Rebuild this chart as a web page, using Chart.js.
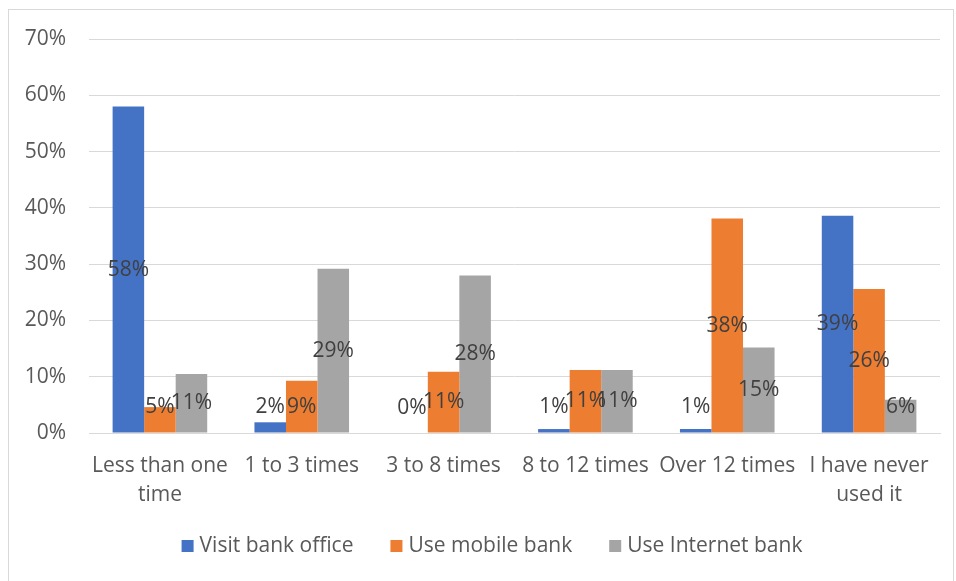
<!DOCTYPE html>
<html>
<head>
<meta charset="utf-8">
<script src="https://cdn.jsdelivr.net/npm/chart.js@4/dist/chart.umd.min.js"></script>
<style>
    html, body { margin: 0; padding: 0; background: #fff; overflow: hidden; }
    #wrap { position: relative; width: 956px; height: 581px; }
    #frame {
        position: absolute; left: 8px; top: 9px; width: 946px; height: 620px;
        border: 1px solid #d9d9d9; box-sizing: border-box;
    }
    canvas { position: absolute; left: 0; top: 0; }
</style>
</head>
<body>
<div id="wrap">
    <div id="frame"></div>
    <canvas id="chart" width="956" height="581"></canvas>
</div>
<script>
var categories = [
    ['Less than one', 'time'],
    '1 to 3 times',
    '3 to 8 times',
    '8 to 12 times',
    'Over 12 times',
    ['I have never', 'used it']
];
var seriesNames = ['Visit bank office', 'Use mobile bank', 'Use Internet bank'];
var visitOffice = [58.0, 1.9, 0.0, 0.7, 0.7, 38.6];
var mobileBank = [4.6, 9.3, 10.9, 11.2, 38.1, 25.6];
var internetBank = [10.5, 29.2, 28.0, 11.2, 15.2, 5.9];
var yTicks = [0, 10, 20, 30, 40, 50, 60, 70];

var seriesColors = ['#4472c4', '#ed7d31', '#a5a5a5'];
var fontFamily = '"Open Sans", "Noto Sans", sans-serif';
var fontSize = 21;

// value labels in the middle of each bar, kept clear of the axis
var barLabels = {
    id: 'barLabels',
    afterDatasetsDraw: function(chart) {
        var ctx = chart.ctx;
        ctx.save();
        ctx.font = fontSize + 'px ' + fontFamily;
        ctx.fillStyle = '#404040';
        ctx.textAlign = 'center';
        ctx.textBaseline = 'middle';
        chart.data.datasets.forEach(function(ds, i) {
            chart.getDatasetMeta(i).data.forEach(function(bar, j) {
                var y = Math.min((bar.y + bar.base) / 2, bar.base - 25);
                ctx.fillText(Math.round(ds.data[j]) + '%', bar.x, y);
            });
        });
        ctx.restore();
    }
};

// legend row under the axis labels
var bottomLegend = {
    id: 'bottomLegend',
    afterDraw: function(chart) {
        var ctx = chart.ctx;
        var gap = 37, box = 12, textGap = 6, center = 492, y = 546;
        ctx.save();
        ctx.font = fontSize + 'px ' + fontFamily;
        var widths = chart.data.datasets.map(function(ds) {
            return box + textGap + ctx.measureText(ds.label).width;
        });
        var total = widths.reduce(function(a, b) { return a + b; }) + gap * (widths.length - 1);
        var x = center - total / 2;
        ctx.textBaseline = 'middle';
        chart.data.datasets.forEach(function(ds, i) {
            ctx.fillStyle = ds.backgroundColor;
            ctx.fillRect(x, y - box / 2, box, box);
            ctx.fillStyle = '#595959';
            ctx.fillText(ds.label, x + box + textGap, y);
            x += widths[i] + gap;
        });
        ctx.restore();
    }
};

new Chart(document.getElementById('chart').getContext('2d'), {
    type: 'bar',
    data: {
        labels: categories,
        datasets: [
            { label: seriesNames[0], data: visitOffice, backgroundColor: seriesColors[0] },
            { label: seriesNames[1], data: mobileBank, backgroundColor: seriesColors[1] },
            { label: seriesNames[2], data: internetBank, backgroundColor: seriesColors[2] }
        ]
    },
    options: {
        responsive: false,
        animation: false,
        layout: { padding: { top: 39, right: 16, bottom: 58, left: 0 } },
        datasets: {
            bar: { barPercentage: 1, categoryPercentage: 0.667 }
        },
        plugins: {
            legend: { display: false },
            tooltip: { enabled: false }
        },
        scales: {
            x: {
                afterFit: function(scale) { scale.height = 90; },
                grid: { display: false, drawTicks: false },
                border: { color: '#d9d9d9', width: 1 },
                ticks: {
                    color: '#595959',
                    padding: 19,
                    maxRotation: 0,
                    autoSkip: false,
                    font: { family: fontFamily, size: fontSize, lineHeight: 1.38 }
                }
            },
            y: {
                min: 0,
                max: 70,
                afterFit: function(scale) { scale.width = 89; },
                afterBuildTicks: function(scale) {
                    scale.ticks = yTicks.map(function(v) { return { value: v }; });
                },
                grid: { color: '#d9d9d9', lineWidth: 1, drawTicks: false },
                border: { display: false },
                ticks: {
                    color: '#595959',
                    padding: 23,
                    font: { family: fontFamily, size: fontSize },
                    callback: function(v) { return v + '%'; }
                }
            }
        }
    },
    plugins: [barLabels, bottomLegend]
});
</script>
</body>
</html>
